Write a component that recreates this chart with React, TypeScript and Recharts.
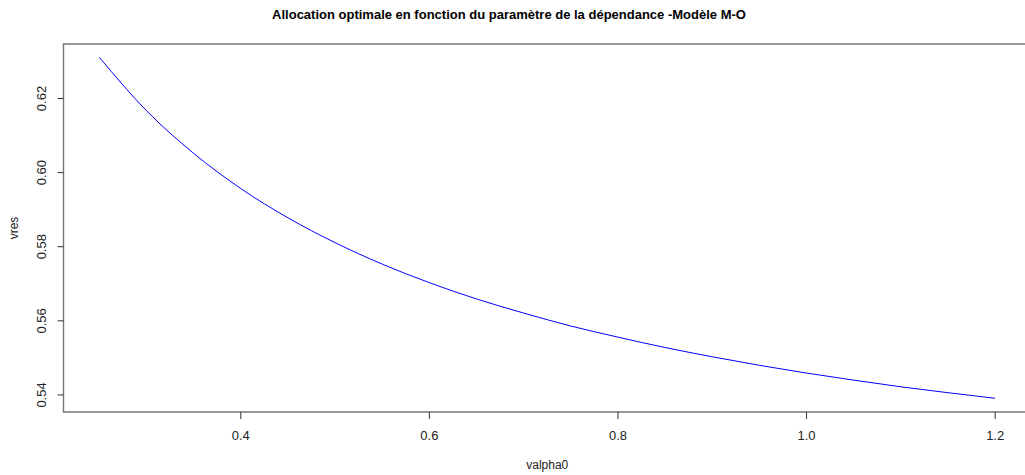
import React from 'react';
import { LineChart, Line, XAxis, YAxis, ReferenceArea, Label } from 'recharts';

const valpha0 = [0.25, 0.30, 0.35, 0.40, 0.45, 0.50, 0.55, 0.60, 0.65, 0.70, 0.75, 0.80, 0.85, 0.90, 0.95, 1.00, 1.05, 1.10, 1.15, 1.20];
const vres = [0.6311, 0.6167, 0.6052, 0.5957, 0.5878, 0.5811, 0.5753, 0.5703, 0.5659, 0.5621, 0.5586, 0.5556, 0.5528, 0.5503, 0.5480, 0.5459, 0.5440, 0.5422, 0.5406, 0.5391];
const xTicks = [0.4, 0.6, 0.8, 1.0, 1.2];
const yTicks = [0.54, 0.56, 0.58, 0.60, 0.62];
const xDomain = [0.212, 1.238];
const yDomain = [0.5354, 0.6347];
const title = 'Allocation optimale en fonction du paramètre de la dépendance -Modèle M-O';
const xLabel = 'valpha0';
const yLabel = 'vres';

const data = valpha0.map((x, i) => ({ x, y: vres[i] }));
const FONT = '"Liberation Sans", Arial, sans-serif';

const YTick = (props: any) => {
  const { x, y, payload } = props;
  return (
    <text x={x} y={y} transform={`rotate(-90, ${x}, ${y})`} textAnchor="middle" fontSize={13} fontFamily={FONT} fill="#222">
      {Number(payload.value).toFixed(2)}
    </text>
  );
};

const XTick = (props: any) => {
  const { x, y, payload } = props;
  return (
    <text x={x} y={y} dy={9.5} textAnchor="middle" fontSize={13} fontFamily={FONT} fill="#222">
      {Number(payload.value).toFixed(1)}
    </text>
  );
};

export default function App() {
  return (
    <div style={{ position: 'absolute', left: 0, top: 0, width: 1025, height: 475, overflow: 'hidden', background: '#fff' }}>
      <div style={{ position: 'absolute', left: 0, top: 6, width: 1018, textAlign: 'center', fontFamily: FONT, fontWeight: 'bold', fontSize: 13, color: '#000', lineHeight: '18px' }}>
        {title}
      </div>
      <LineChart width={1045} height={475} data={data} margin={{ top: 44, right: 14, bottom: 0, left: 0 }} style={{ position: 'absolute', left: 0, top: 0 }}>
        <XAxis dataKey="x" type="number" domain={xDomain} ticks={xTicks} allowDataOverflow height={63}
          axisLine={false} tickLine={{ stroke: '#333' }} tickSize={7} tickMargin={11} tick={XTick} interval={0}>
          <Label content={(p: any) => {
            const vb = p.viewBox;
            return <text x={vb.x + vb.width / 2} y={vb.y + 57} textAnchor="middle" fontSize={12} fontFamily={FONT} fill="#222">{xLabel}</text>;
          }} />
        </XAxis>
        <YAxis type="number" domain={yDomain} ticks={yTicks} allowDataOverflow width={63.5}
          axisLine={false} tickLine={{ stroke: '#333' }} tickSize={6} tickMargin={11.5} tick={YTick} interval={0}>
          <Label content={(p: any) => {
            const vb = p.viewBox;
            const cx = vb.x + 18;
            const cy = vb.y + vb.height / 2;
            return <text x={cx} y={cy} transform={`rotate(-90, ${cx}, ${cy})`} textAnchor="middle" fontSize={12} fontFamily={FONT} fill="#222">{yLabel}</text>;
          }} />
        </YAxis>
        <ReferenceArea x1={xDomain[0]} x2={xDomain[1]} y1={yDomain[0]} y2={yDomain[1]} fill="none" stroke="#777" strokeWidth={1.4} ifOverflow="visible" />
        <Line dataKey="y" type="monotone" stroke="#0000ff" strokeWidth={1} dot={false} isAnimationActive={false} />
      </LineChart>
    </div>
  );
}
